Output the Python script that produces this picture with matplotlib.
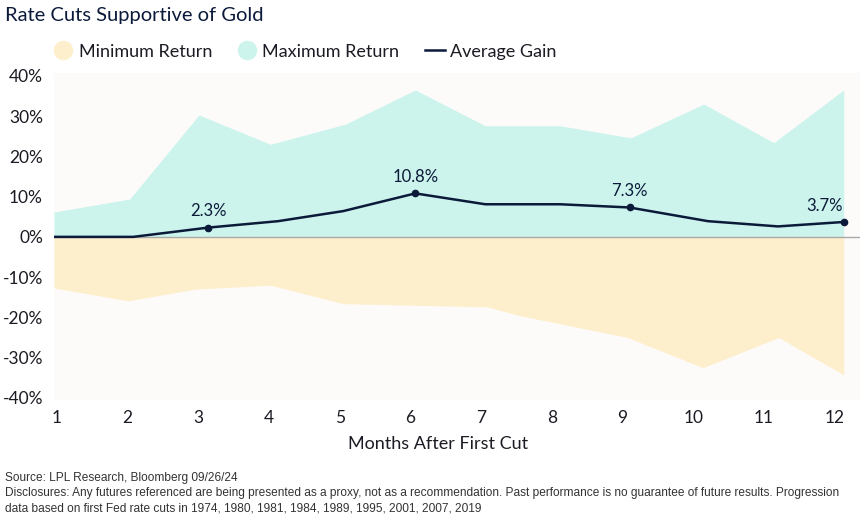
import numpy as np
import matplotlib
matplotlib.use('Agg')
import matplotlib.pyplot as plt
from matplotlib.lines import Line2D

plt.rcParams['font.family'] = ['Lato', 'DejaVu Sans']

# data (x in months after first cut)
max_x = [0.96, 2.03, 3.01, 4.02, 5.08, 6.07, 7.06, 8.12, 9.12, 10.15, 11.14, 12.13]
max_ret = [6.2, 9.4, 30.3, 23.0, 28.0, 36.5, 27.6, 27.6, 24.6, 33.0, 23.4, 36.5]

min_x = [0.96, 2.01, 2.95, 4.02, 5.05, 6.07, 7.09, 7.53, 9.07, 10.14, 11.21, 12.13]
min_ret = [-12.7, -15.9, -13.0, -12.0, -16.6, -17.0, -17.4, -19.5, -25.0, -32.5, -25.0, -34.3]

avg_x = [0.96, 2.08, 3.14, 4.13, 5.05, 6.07, 7.06, 8.12, 9.10, 10.21, 11.20, 12.13]
avg_gain = [0.0, 0.0, 2.3, 3.9, 6.4, 10.8, 8.1, 8.1, 7.3, 3.9, 2.6, 3.7]
labelled = [2, 5, 8, 11]

months = list(range(1, 13))
yticks = [-40, -30, -20, -10, 0, 10, 20, 30, 40]

navy = '#0c1a3a'
teal = '#ccf4ec'
sand = '#fdefcc'
txt = '#1b1b24'

fig = plt.figure(figsize=(8.6, 5.18), dpi=100)
ax = fig.add_axes([0.0628, 0.228, 0.9372, 0.631])
ax.set_facecolor('#fdfbfa')

ax.fill_between(max_x, 0, max_ret, color=teal, lw=0)
ax.fill_between(min_x, 0, min_ret, color=sand, lw=0)
ax.axhline(0, color='#a9a9a9', lw=1.0)

ax.plot(avg_x, avg_gain, color=navy, lw=1.8, solid_joinstyle='round')
for i in labelled:
    ax.plot(avg_x[i], avg_gain[i], 'o', color=navy, ms=4.5)
    dx = -14 if i == len(avg_x) - 1 else 0
    ax.annotate('{:.1f}%'.format(avg_gain[i]), (avg_x[i], avg_gain[i]),
                xytext=(dx, 6), textcoords='offset points', ha='center',
                va='bottom', fontsize=12, color=navy)

ax.set_xlim(0.96, 12.36)
ax.set_ylim(-40.5, 40.7)
ax.set_xticks(months)
ax.set_xticklabels([str(m) for m in months])
ax.set_yticks(yticks)
ax.set_yticklabels(['{}%'.format(v) for v in yticks])
ax.tick_params(length=0, labelsize=12.5, colors=txt)
ax.tick_params(axis='x', pad=7)
ax.tick_params(axis='y', pad=8)
for s in ax.spines.values():
    s.set_visible(False)
ax.set_xlabel('Months After First Cut', fontsize=13, color=txt)
ax.xaxis.set_label_coords(0.476, -0.11)

handles = [Line2D([], [], ls='', marker='o', ms=13, color=sand),
           Line2D([], [], ls='', marker='o', ms=13, color=teal),
           Line2D([], [], color=navy, lw=1.8)]
fig.legend(handles, ['Minimum Return', 'Maximum Return', 'Average Gain'],
           loc='center left', bbox_to_anchor=(0.043, 0.9), ncol=3,
           frameon=False, fontsize=13, handlelength=1.1, handletextpad=0.3,
           columnspacing=1.4, labelcolor=txt)

fig.text(0.006, 0.97, 'Rate Cuts Supportive of Gold', fontsize=14.5,
         color=navy, va='center', ha='left')

foot = ['Source: LPL Research, Bloomberg 09/26/24',
        'Disclosures: Any futures referenced are being presented as a proxy, '
        'not as a recommendation. Past performance is no guarantee of future '
        'results. Progression',
        'data based on first Fed rate cuts in 1974, 1980, 1981, 1984, 1989, '
        '1995, 2001, 2007, 2019']
ftexts = []
for k, line in enumerate(foot):
    ftexts.append(fig.text(0.006, 0.0772 - k * 0.029, line, fontsize=8,
                           color='#333333', va='center', ha='left',
                           family=['Liberation Sans', 'DejaVu Sans']))

# shrink footnote so the long line fits the width like the original
r = fig.canvas.get_renderer()
w = ftexts[1].get_window_extent(r).width
fs = 8 * 845.0 / w
for t in ftexts:
    t.set_fontsize(fs)

fig.savefig('out.png', dpi=100)
